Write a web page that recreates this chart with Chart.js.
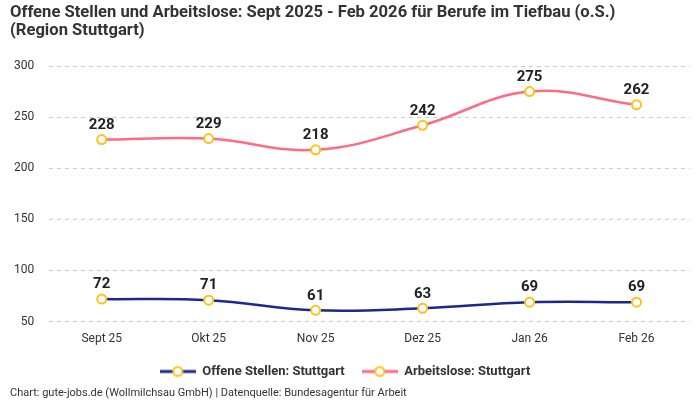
<!DOCTYPE html>
<html><head><meta charset="utf-8">
<script src="https://cdn.jsdelivr.net/npm/chart.js@4"></script>
<style>html,body{margin:0;padding:0;background:#fff}#w{width:700px;height:400px}</style>
</head><body><div id="w"><canvas id="c"></canvas></div>
<script>
const categories = ["Sept 25","Okt 25","Nov 25","Dez 25","Jan 26","Feb 26"];
const offeneStellen = [72,71,61,63,69,69];
const arbeitslose = [228,229,218,242,275,262];
const yTicks = [50,100,150,200,250,300];
const titleLines = ["Offene Stellen und Arbeitslose: Sept 2025 - Feb 2026 für Berufe im Tiefbau (o.S.)","(Region Stuttgart)"];
const footerText = "Chart: gute-jobs.de (Wollmilchsau GmbH) | Datenquelle: Bundesagentur für Arbeit";
const FONT = "'Roboto',sans-serif";

function legendIcon(color){
  const c=document.createElement('canvas');c.width=36;c.height=14;
  const x=c.getContext('2d');
  x.strokeStyle=color;x.lineWidth=3;x.beginPath();x.moveTo(0,7);x.lineTo(36,7);x.stroke();
  x.fillStyle='#fff';x.strokeStyle='#FFC21A';x.lineWidth=2;x.beginPath();x.arc(18,7,4.5,0,Math.PI*2);x.fill();x.stroke();
  return c;
}
const labelPlugin={id:'vals',afterDatasetsDraw(chart){
  const ctx=chart.ctx;ctx.save();ctx.font="bold 15px "+FONT;ctx.fillStyle='#222';ctx.textAlign='center';ctx.textBaseline='bottom';
  chart.data.datasets.forEach((ds,i)=>{chart.getDatasetMeta(i).data.forEach((p,j)=>{ctx.fillText(ds.data[j],p.x,p.y-7);});});
  ctx.restore();
}};
const textPlugin={id:'texts',afterDraw(chart){
  const ctx=chart.ctx;ctx.save();ctx.fillStyle='#333';ctx.textBaseline='alphabetic';ctx.textAlign='left';
  ctx.font="bold 16.6px "+FONT;
  ctx.fillText(titleLines[0],10,17);ctx.fillText(titleLines[1],10,35);
  ctx.font="11px "+FONT;ctx.textBaseline='middle';
  ctx.fillText(footerText,10,393);ctx.restore();
}};
new Chart(document.getElementById('c'),{
  type:'line',
  data:{labels:categories,datasets:[
    {label:'Offene Stellen: Stuttgart',data:offeneStellen,borderColor:'#1B2A8A',borderWidth:2.5,tension:0.4,pointRadius:4.5,pointBorderWidth:2,pointBackgroundColor:'#fff',pointBorderColor:'#FFC21A'},
    {label:'Arbeitslose: Stuttgart',data:arbeitslose,borderColor:'#FF6B84',borderWidth:2.5,tension:0.4,pointRadius:4.5,pointBorderWidth:2,pointBackgroundColor:'#fff',pointBorderColor:'#FFC21A'}
  ]},
  options:{responsive:true,maintainAspectRatio:false,animation:false,
    layout:{padding:{left:0,right:10,top:66,bottom:12}},
    plugins:{
      title:{display:false},
      legend:{position:'bottom',labels:{color:'#333',font:{family:FONT,size:13,weight:'bold'},usePointStyle:true,pointStyleWidth:36,boxHeight:14,padding:17,
        generateLabels(chart){return chart.data.datasets.map((d,i)=>({text:d.label,pointStyle:legendIcon(d.borderColor),datasetIndex:i,fontColor:'#333',lineWidth:0,strokeStyle:'transparent',fillStyle:'transparent'}));}}},
      tooltip:{enabled:false}
    },
    scales:{
      x:{offset:true,grid:{display:false},border:{display:false},ticks:{color:'#333',font:{family:FONT,size:12},padding:2}},
      y:{min:50,max:300,afterBuildTicks(s){s.ticks=yTicks.map(v=>({value:v}));},grid:{color:'#ccc',drawTicks:false},border:{display:true,color:'transparent',dash:[4,4]},ticks:{color:'#333',font:{family:FONT,size:12},padding:14}}
    }
  },
  plugins:[labelPlugin,textPlugin]
});
</script></body></html>
